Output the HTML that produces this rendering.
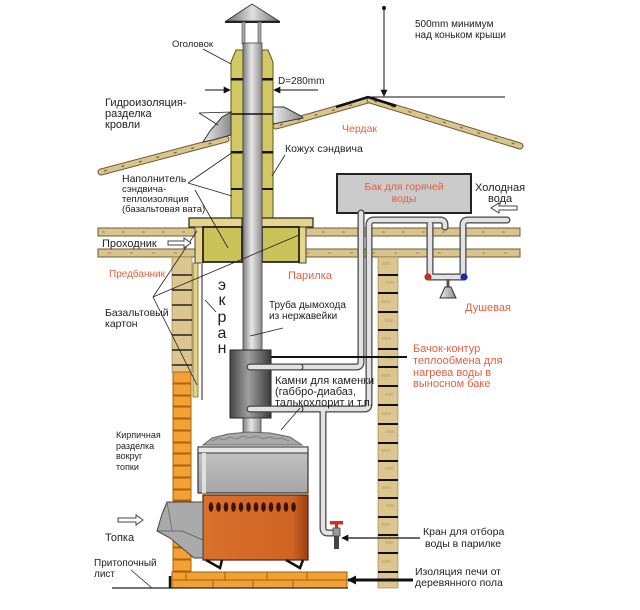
<!DOCTYPE html>
<html><head><meta charset="utf-8"><style>
html,body{margin:0;padding:0;background:#fff;}
svg{display:block;}
text{font-family:"Liberation Sans",Arial,sans-serif;fill:#222;}
.r{fill:#e2603f;}
</style></head><body>
<svg width="640" height="610" viewBox="0 0 640 610" xmlns="http://www.w3.org/2000/svg">
<defs>
<linearGradient id="gp" x1="0" x2="1"><stop offset="0" stop-color="#7d7d7d"/><stop offset=".45" stop-color="#e8e8e8"/><stop offset="1" stop-color="#8c8c8c"/></linearGradient>
<linearGradient id="gx" x1="0" x2="1"><stop offset="0" stop-color="#454545"/><stop offset=".45" stop-color="#a0a0a0"/><stop offset="1" stop-color="#3a3a3a"/></linearGradient>
<linearGradient id="gc" x1="0" x2="1"><stop offset="0" stop-color="#6a6a6a"/><stop offset=".5" stop-color="#e0e0e0"/><stop offset="1" stop-color="#707070"/></linearGradient>
<linearGradient id="gs" x1="0" x2="0" y1="0" y2="1"><stop offset="0" stop-color="#c4c4c4"/><stop offset="1" stop-color="#a6a6a6"/></linearGradient>
<linearGradient id="gf" x1="0" x2="1"><stop offset="0" stop-color="#ececec"/><stop offset="1" stop-color="#8a8a8a"/></linearGradient>
<linearGradient id="go" x1="0" x2="1"><stop offset="0" stop-color="#d9702c"/><stop offset=".85" stop-color="#d06424"/><stop offset="1" stop-color="#9a4012"/></linearGradient>
<marker id="ah" viewBox="0 0 10 10" refX="9" refY="5" markerWidth="7" markerHeight="7" markerUnits="userSpaceOnUse" orient="auto"><path d="M0,0L10,5L0,10z" fill="#111"/></marker>
<marker id="ah2" viewBox="0 0 10 10" refX="9" refY="5" markerWidth="9" markerHeight="9" markerUnits="userSpaceOnUse" orient="auto"><path d="M0,0L10,5L0,10z" fill="#111"/></marker>
</defs>

<!-- ceiling beams -->
<rect x="98" y="228" width="422" height="8" fill="#d8c48c" stroke="#6e5d36"/>
<rect x="98" y="249" width="422" height="8" fill="#d8c48c" stroke="#6e5d36"/>
<line x1="102" y1="232" x2="516" y2="232" stroke="#9a8550" stroke-dasharray="3 17"/>
<line x1="108" y1="253" x2="516" y2="253" stroke="#9a8550" stroke-dasharray="3 19"/>

<!-- right wall -->
<rect x="378" y="257" width="20" height="331" fill="#dcc690" stroke="#8a7a50" stroke-width=".6"/>
<g stroke="#111" stroke-width="2">
<line x1="378" y1="275" x2="398" y2="275"/><line x1="378" y1="293" x2="398" y2="293"/><line x1="378" y1="312" x2="398" y2="312"/>
<line x1="378" y1="330" x2="398" y2="330"/><line x1="378" y1="349" x2="398" y2="349"/><line x1="378" y1="367" x2="398" y2="367"/>
<line x1="378" y1="386" x2="398" y2="386"/><line x1="378" y1="405" x2="398" y2="405"/><line x1="378" y1="424" x2="398" y2="424"/>
<line x1="378" y1="443" x2="398" y2="443"/><line x1="378" y1="461" x2="398" y2="461"/><line x1="378" y1="480" x2="398" y2="480"/>
<line x1="378" y1="498" x2="398" y2="498"/><line x1="378" y1="517" x2="398" y2="517"/><line x1="378" y1="535" x2="398" y2="535"/>
<line x1="378" y1="553" x2="398" y2="553"/><line x1="378" y1="572" x2="398" y2="572"/>
</g>
<g fill="#c9ad6a" opacity=".7">
<rect x="382" y="262" width="8" height="3"/><rect x="386" y="281" width="8" height="3"/><rect x="381" y="300" width="9" height="3"/><rect x="385" y="319" width="8" height="3"/>
<rect x="382" y="337" width="9" height="3"/><rect x="386" y="356" width="8" height="3"/><rect x="381" y="374" width="9" height="3"/><rect x="385" y="393" width="8" height="3"/>
<rect x="382" y="412" width="9" height="3"/><rect x="386" y="430" width="8" height="3"/><rect x="381" y="449" width="9" height="3"/><rect x="385" y="467" width="8" height="3"/>
<rect x="382" y="486" width="9" height="3"/><rect x="386" y="504" width="8" height="3"/><rect x="381" y="523" width="9" height="3"/><rect x="385" y="541" width="8" height="3"/>
<rect x="382" y="560" width="9" height="3"/><rect x="386" y="578" width="8" height="3"/>
</g>

<!-- left wall beige -->
<rect x="172" y="257" width="20" height="115" fill="#dcc690" stroke="#8a7a50" stroke-width=".6"/>
<g stroke="#222" stroke-width="1.5">
<line x1="172" y1="275" x2="192" y2="275"/><line x1="172" y1="290" x2="192" y2="290"/><line x1="172" y1="305" x2="192" y2="305"/>
<line x1="172" y1="320" x2="192" y2="320"/><line x1="172" y1="335" x2="192" y2="335"/><line x1="172" y1="350" x2="192" y2="350"/>
<line x1="172" y1="365" x2="192" y2="365"/>
</g>
<!-- left wall orange -->
<g fill="#f2a235" stroke="#b0600f" stroke-width="1">
<rect x="173" y="372" width="18" height="11"/><rect x="173" y="384" width="18" height="11"/><rect x="173" y="396" width="18" height="10"/>
<rect x="173" y="407" width="18" height="11"/><rect x="173" y="419" width="18" height="11"/><rect x="173" y="431" width="18" height="11"/>
<rect x="173" y="443" width="18" height="10"/><rect x="173" y="454" width="18" height="11"/><rect x="173" y="466" width="18" height="11"/>
<rect x="173" y="478" width="18" height="11"/><rect x="173" y="490" width="18" height="10"/><rect x="173" y="501" width="18" height="11"/>
<rect x="173" y="513" width="18" height="11"/><rect x="173" y="525" width="18" height="11"/><rect x="173" y="537" width="18" height="10"/>
<rect x="173" y="548" width="18" height="11"/><rect x="173" y="560" width="18" height="11"/>
</g>

<!-- base bricks -->
<g fill="#f2a235" stroke="#a05a10" stroke-width="1">
<rect x="172" y="572" width="14" height="8"/><rect x="186" y="572" width="39" height="8"/><rect x="225" y="572" width="42" height="8"/><rect x="267" y="572" width="40" height="8"/><rect x="307" y="572" width="40" height="8"/>
<rect x="172" y="580" width="41" height="8"/><rect x="213" y="580" width="40" height="8"/><rect x="253" y="580" width="40" height="8"/><rect x="293" y="580" width="54" height="8"/>
</g>
<line x1="112" y1="588" x2="348" y2="588" stroke="#222" stroke-width="1.2"/>
<line x1="170" y1="576" x2="170" y2="588" stroke="#111" stroke-width="2.5"/>

<!-- screen -->
<rect x="193" y="263" width="5" height="134" fill="#e6d27a" stroke="#7a6a30" stroke-width=".8"/>
<line x1="202" y1="264" x2="202" y2="400" stroke="#222" stroke-width="1"/>

<!-- hot water tank -->
<rect x="337" y="174" width="134" height="39" fill="#cbcbcb" stroke="#222" stroke-width="2"/>

<!-- pipes -->
<g fill="none" stroke-linecap="round" stroke-linejoin="round">
<g stroke="#444" stroke-width="7">
<path d="M250,367 H356 Q361,367 361,362 V213"/>
<path d="M250,409 H364 Q369,409 369,404 V225 Q369,220 374,220 H440 Q445,220 445,225 V227"/>
<path d="M323,410 V528 Q323,533 328,533 H334"/>
<path d="M430,224 V277 H463"/>
<path d="M507,220 H468 Q463,220 463,225 V277"/>
</g>
<g stroke="#e2e2e2" stroke-width="4.5">
<path d="M250,367 H356 Q361,367 361,362 V213"/>
<path d="M250,409 H364 Q369,409 369,404 V225 Q369,220 374,220 H440 Q445,220 445,225 V227"/>
<path d="M323,410 V528 Q323,533 328,533 H334"/>
<path d="M430,224 V277 H463"/>
<path d="M507,220 H468 Q463,220 463,225 V277"/>
</g>
</g>
<circle cx="428" cy="277" r="3.6" fill="#c0302a"/>
<circle cx="464" cy="277" r="3.6" fill="#1a2aa0"/>
<line x1="448" y1="279" x2="448" y2="288" stroke="#555" stroke-width="3"/>
<polygon points="445,287 451,287 456,298 440,298" fill="url(#gf)" stroke="#333" stroke-width="1"/>

<!-- tap -->
<rect x="330" y="521" width="13" height="3.5" fill="#d03020"/>
<rect x="335" y="523" width="3" height="6" fill="#d03020"/>
<rect x="333" y="528" width="7" height="8" fill="#9a9a9a" stroke="#444" stroke-width=".8"/>
<rect x="334" y="536" width="5" height="13" fill="#444"/>

<!-- chimney cap -->
<polygon points="252,4 226,21 279,21" fill="url(#gc)" stroke="#333" stroke-width=".8"/>
<line x1="225" y1="22" x2="280" y2="22" stroke="#222" stroke-width="2"/>
<rect x="242" y="22" width="3" height="22" fill="#aaa" stroke="#444" stroke-width=".6"/>
<rect x="258" y="22" width="3" height="22" fill="#aaa" stroke="#444" stroke-width=".6"/>

<!-- chimney insulation -->
<polygon points="231,62 236,50 243,50 243,218 231,218" fill="#d3c964" stroke="#5a5520" stroke-width="1"/>
<polygon points="262,50 268,50 273,62 273,218 262,218" fill="#d3c964" stroke="#5a5520" stroke-width="1"/>
<g fill="#151515">
<rect x="231" y="78" width="12" height="2.5"/><rect x="262" y="78" width="11" height="2.5"/>
<rect x="231" y="151" width="12" height="2.5"/><rect x="262" y="151" width="11" height="2.5"/>
<rect x="231" y="188" width="12" height="2"/><rect x="262" y="188" width="11" height="2"/>
</g>

<!-- ceiling box -->
<rect x="189" y="218" width="53" height="9" fill="#e6d58a" stroke="#222" stroke-width="1.2"/>
<rect x="261" y="218" width="52" height="9" fill="#e6d58a" stroke="#222" stroke-width="1.2"/>
<rect x="195" y="227" width="8" height="36" fill="#e6d58a" stroke="#444" stroke-width="1"/>
<rect x="299" y="227" width="7" height="36" fill="#e6d58a" stroke="#444" stroke-width="1"/>
<rect x="203" y="227" width="39" height="35" fill="#c9c35a" stroke="#111" stroke-width="1.6"/>
<rect x="262" y="227" width="37" height="35" fill="#c9c35a" stroke="#111" stroke-width="1.6"/>

<!-- flue pipe -->
<rect x="243" y="43" width="19" height="307" fill="url(#gp)" stroke="#444" stroke-width=".8"/>
<line x1="231" y1="114" x2="273" y2="114" stroke="#111" stroke-width="1.5"/>

<!-- heat exchanger -->
<rect x="230" y="350" width="41" height="68" fill="url(#gx)" stroke="#222" stroke-width="1"/>
<rect x="243" y="418" width="18" height="22" fill="url(#gp)" stroke="#444" stroke-width=".8"/>
<g fill="none" stroke-linecap="round">
<line x1="250" y1="367" x2="300" y2="367" stroke="#444" stroke-width="7"/>
<line x1="250" y1="367" x2="300" y2="367" stroke="#e2e2e2" stroke-width="4.5"/>
<line x1="250" y1="409" x2="300" y2="409" stroke="#444" stroke-width="7"/>
<line x1="250" y1="409" x2="300" y2="409" stroke="#e2e2e2" stroke-width="4.5"/>
</g>
<line x1="271" y1="357" x2="407" y2="357" stroke="#111" stroke-width="2"/>

<!-- roof -->
<g stroke-linecap="round">
<line x1="101" y1="172" x2="226" y2="139" stroke="#6b5a35" stroke-width="7"/>
<line x1="101" y1="172" x2="226" y2="139" stroke="#d9c58c" stroke-width="5"/>
<line x1="276" y1="126" x2="368" y2="100" stroke="#6b5a35" stroke-width="7"/>
<line x1="276" y1="126" x2="368" y2="100" stroke="#d9c58c" stroke-width="5"/>
<line x1="370" y1="100" x2="520" y2="146" stroke="#6b5a35" stroke-width="7"/>
<line x1="370" y1="100" x2="520" y2="146" stroke="#d9c58c" stroke-width="5"/>
</g>
<g stroke="#7a6638" stroke-width="1.2" stroke-dasharray="3 15">
<line x1="104" y1="171" x2="224" y2="140"/>
<line x1="280" y1="125" x2="366" y2="101"/>
<line x1="374" y1="101" x2="518" y2="145"/>
</g>
<polyline points="336,107 368,97 396,106" fill="none" stroke="#111" stroke-width="2.5"/>
<!-- flashing -->
<polygon points="203,142 210,131 222,117 231,112 231,135 213,140" fill="url(#gf)" stroke="#333" stroke-width="1"/>
<polygon points="273,107 284,107 301,116 303,118 273,124" fill="url(#gf)" stroke="#333" stroke-width="1"/>

<!-- stove -->
<path d="M203,445 L212,438 L228,434 L248,432 L270,433 L290,437 L302,445 Z" fill="#a9a9a9" stroke="#666" stroke-width="1"/>
<path d="M212,441 l6,-3 6,2 6,-3 7,2 6,-3 7,2 6,-2 7,3 6,-2 7,2 6,-1 7,3" fill="none" stroke="#777" stroke-width=".8"/>
<rect x="198" y="447" width="110" height="46" fill="url(#gs)" stroke="#333" stroke-width="1.2"/>
<rect x="198" y="447" width="110" height="6" fill="#e6e6e6" stroke="#333" stroke-width="1"/>
<rect x="202" y="453" width="4" height="40" fill="#e0e0e0"/>
<rect x="203" y="495" width="105" height="65" fill="url(#go)" stroke="#5a2206" stroke-width="1.2"/>
<g fill="#3a1406">
<ellipse cx="211" cy="507" rx="2.3" ry="4.8"/><ellipse cx="218.5" cy="507" rx="2.3" ry="4.8"/><ellipse cx="226" cy="507" rx="2.3" ry="4.8"/>
<ellipse cx="233.5" cy="507" rx="2.3" ry="4.8"/><ellipse cx="241" cy="507" rx="2.3" ry="4.8"/><ellipse cx="248.5" cy="507" rx="2.3" ry="4.8"/>
<ellipse cx="256" cy="507" rx="2.3" ry="4.8"/><ellipse cx="263.5" cy="507" rx="2.3" ry="4.8"/><ellipse cx="271" cy="507" rx="2.3" ry="4.8"/>
<ellipse cx="278.5" cy="507" rx="2.3" ry="4.8"/><ellipse cx="286" cy="507" rx="2.3" ry="4.8"/><ellipse cx="293.5" cy="507" rx="2.3" ry="4.8"/>
</g>
<polygon points="167,502 203,502 203,558 194,558 170,538 157,531 162,514" fill="#aaaaaa" stroke="#444" stroke-width="1"/>
<polyline points="157,531 182,531 203,540" fill="none" stroke="#555" stroke-width=".8"/>
<polyline points="167,502 172,530" fill="none" stroke="#666" stroke-width=".8"/>
<polyline points="206,560 220,568 222,560" fill="none" stroke="#111" stroke-width="2.5"/>
<polyline points="286,560 300,568 303,560" fill="none" stroke="#111" stroke-width="2.5"/>

<!-- dimension / leader lines -->
<circle cx="384" cy="8" r="2" fill="#111"/>
<line x1="384" y1="8" x2="384" y2="96" stroke="#111" stroke-width="1" marker-end="url(#ah)"/>
<line x1="370" y1="97" x2="505" y2="97" stroke="#111" stroke-width="1"/>
<line x1="205" y1="90" x2="230" y2="90" stroke="#111" stroke-width="1" marker-end="url(#ah)"/>
<line x1="318" y1="90" x2="274" y2="90" stroke="#111" stroke-width="1" marker-end="url(#ah)"/>
<g stroke="#222" stroke-width=".8" fill="none">
<line x1="203" y1="49" x2="231" y2="64"/>
<line x1="199" y1="113" x2="232" y2="112"/>
<line x1="199" y1="113" x2="218" y2="125"/>
<line x1="285" y1="155" x2="272" y2="176"/>
<line x1="188" y1="183" x2="233" y2="152"/>
<line x1="188" y1="183" x2="232" y2="196"/>
<line x1="195" y1="190" x2="228" y2="248"/>
<line x1="153" y1="297" x2="197" y2="231"/>
<line x1="153" y1="297" x2="299" y2="235"/>
<line x1="153" y1="297" x2="197" y2="385"/>
<line x1="205" y1="300" x2="216" y2="312"/>
<line x1="283" y1="328" x2="250" y2="336"/>
<line x1="300" y1="408" x2="281" y2="430"/>
<line x1="131" y1="570" x2="152" y2="588"/>
</g>
<line x1="420" y1="538" x2="342" y2="538" stroke="#111" stroke-width="1.3" marker-end="url(#ah)"/>
<line x1="413" y1="580" x2="348" y2="580" stroke="#111" stroke-width="3" marker-end="url(#ah2)"/>

<!-- hollow arrows -->
<polygon points="168,241 184,241 184,238 191,243 184,248 184,245 168,245" fill="#fff" stroke="#444" stroke-width="1"/>
<polygon points="118,518 136,518 136,515 143,520 136,525 136,522 118,522" fill="#fff" stroke="#444" stroke-width="1"/>
<polygon points="517,206 499,206 499,203 491,208 499,213 499,210 517,210" fill="#fff" stroke="#444" stroke-width="1"/>

<!-- labels -->
<text x="415" y="27" font-size="10">500mm минимум</text>
<text x="415" y="38" font-size="10">над коньком крыши</text>
<text x="172" y="47" font-size="9.5">Оголовок</text>
<text x="278" y="84" font-size="10">D=280mm</text>
<text x="105" y="106" font-size="11">Гидроизоляция-</text>
<text x="105" y="117" font-size="11">разделка</text>
<text x="105" y="128" font-size="11">кровли</text>
<text x="342" y="132" font-size="10.5" class="r">Чердак</text>
<text x="285" y="152" font-size="10.5">Кожух сэндвича</text>
<text x="122" y="182" font-size="10.5">Наполнитель</text>
<text x="122" y="192" font-size="9.5">сэндвича-</text>
<text x="122" y="202" font-size="9.5">теплоизоляция</text>
<text x="122" y="212" font-size="9.5">(базальтовая вата)</text>
<text x="404" y="190" font-size="10.5" class="r" text-anchor="middle">Бак для горячей</text>
<text x="404" y="202" font-size="10.5" class="r" text-anchor="middle">воды</text>
<text x="475" y="191" font-size="11">Холодная</text>
<text x="488" y="202" font-size="11">вода</text>
<text x="102" y="247" font-size="11">Проходник</text>
<text x="109" y="277" font-size="10" class="r">Предбанник</text>
<text x="288" y="279" font-size="11" class="r">Парилка</text>
<text x="465" y="311" font-size="11" class="r">Душевая</text>
<text x="105" y="316" font-size="10.5">Базальтовый</text>
<text x="105" y="327" font-size="10.5">картон</text>
<g font-size="16" text-anchor="middle">
<text x="222" y="290">э</text><text x="222" y="305">к</text><text x="222" y="322">р</text><text x="222" y="338">а</text><text x="222" y="353">н</text>
</g>
<text x="269" y="308" font-size="10">Труба дымохода</text>
<text x="269" y="319" font-size="10">из нержавейки</text>
<text x="413" y="352" font-size="11" class="r">Бачок-контур</text>
<text x="413" y="364" font-size="11" class="r">теплообмена для</text>
<text x="413" y="376" font-size="11" class="r">нагрева воды в</text>
<text x="413" y="387" font-size="11" class="r">выносном баке</text>
<text x="275" y="384" font-size="11">Камни для каменки</text>
<text x="275" y="395" font-size="11">(габбро-диабаз,</text>
<text x="275" y="406" font-size="11">талькохлорит и т.п.</text>
<text x="116" y="438" font-size="9">Кирпичная</text>
<text x="116" y="449" font-size="9">разделка</text>
<text x="116" y="459" font-size="9">вокруг</text>
<text x="116" y="470" font-size="9">топки</text>
<text x="423" y="535" font-size="10.5">Кран для отбора</text>
<text x="425" y="547" font-size="10.5">воды в парилке</text>
<text x="105" y="541" font-size="11">Топка</text>
<text x="94" y="566" font-size="10">Притопочный</text>
<text x="94" y="577" font-size="10">лист</text>
<text x="415" y="575" font-size="10.5">Изоляция печи от</text>
<text x="415" y="586" font-size="10.5">деревянного пола</text>
</svg>
</body></html>
